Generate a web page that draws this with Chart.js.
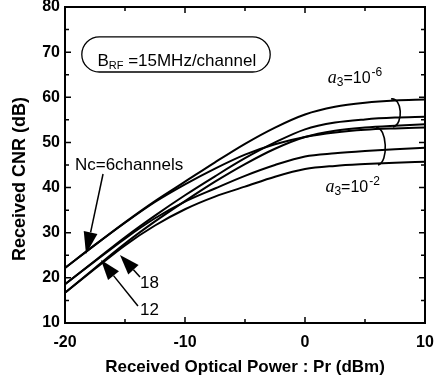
<!DOCTYPE html>
<html><head><meta charset="utf-8">
<script src="https://cdn.jsdelivr.net/npm/chart.js@4"></script>
<style>html,body{margin:0;padding:0;background:#fff}</style>
</head><body>
<canvas id="c" width="437" height="378" style="display:block;width:437px;height:378px"></canvas>
<script>
// ---- data ----
const powers = [-20, -17.5, -15, -12.5, -10, -7.5, -5, -2.5, 0, 2.5, 5, 7.5, 10];
const nc6_a3e6  = [22.2, 27.3, 32.3, 37.0, 41.3, 45.6, 49.7, 53.3, 56.2, 57.9, 58.8, 59.3, 59.5];
const nc6_a3e2  = [22.2, 27.3, 32.2, 36.8, 40.7, 44.2, 47.3, 49.6, 51.2, 52.2, 52.8, 53.1, 53.3];
const nc12_a3e6 = [18.6, 23.8, 29.0, 33.8, 38.3, 42.5, 46.5, 50.0, 52.9, 54.4, 55.1, 55.5, 55.7];
const nc18_a3e6 = [16.7, 22.2, 27.6, 32.5, 37.0, 41.3, 45.2, 48.6, 51.2, 52.6, 53.3, 53.7, 54.0];
const nc12_a3e2 = [18.6, 23.7, 28.7, 33.2, 36.9, 39.8, 42.6, 45.0, 46.9, 47.6, 48.1, 48.5, 48.8];
const nc18_a3e2 = [16.7, 22.0, 27.2, 31.6, 35.2, 38.0, 40.2, 42.4, 44.1, 44.8, 45.2, 45.5, 45.7];
const xTickValues = [-20, -10, 0, 10];
const yTickValues = [10, 20, 30, 40, 50, 60, 70, 80];
const xTitle = 'Received Optical Power : Pr (dBm)';
const yTitle = 'Received CNR (dB)';

const seriesList = [nc6_a3e6, nc6_a3e2, nc12_a3e6, nc18_a3e6, nc12_a3e2, nc18_a3e2];
const seriesNames = ['Nc=6, a3=1e-6','Nc=6, a3=1e-2','Nc=12, a3=1e-6','Nc=18, a3=1e-6','Nc=12, a3=1e-2','Nc=18, a3=1e-2'];

const SANS = '"Liberation Sans", Arial, Helvetica, sans-serif';
const SERIF = '"Liberation Serif", "Times New Roman", serif';

const datasets = seriesList.map((arr, i) => ({
  label: seriesNames[i],
  data: powers.map((p, j) => ({x: p, y: arr[j]})),
  borderColor: '#000',
  borderWidth: 2,
  pointRadius: 0,
  fill: false,
  tension: 0.4,
  cubicInterpolationMode: 'monotone'
}));

function arrow(ctx, x1, y1, x2, y2, headLen, headW) {
  const ang = Math.atan2(y2 - y1, x2 - x1);
  const bx = x2 - headLen * Math.cos(ang), by = y2 - headLen * Math.sin(ang);
  ctx.beginPath(); ctx.moveTo(x1, y1); ctx.lineTo(bx, by); ctx.stroke();
  ctx.beginPath();
  ctx.moveTo(x2, y2);
  ctx.lineTo(bx + headW * Math.sin(ang), by - headW * Math.cos(ang));
  ctx.lineTo(bx - headW * Math.sin(ang), by + headW * Math.cos(ang));
  ctx.closePath(); ctx.fill();
}

const decor = {
  id: 'decor',
  afterDatasetsDraw(chart) {
    const ctx = chart.ctx, a = chart.chartArea;
    const xs = chart.scales.x, ys = chart.scales.y;
    const X = v => xs.getPixelForValue(v), Y = v => ys.getPixelForValue(v);
    ctx.save();
    ctx.strokeStyle = '#000'; ctx.fillStyle = '#000';
    // frame
    ctx.lineWidth = 2;
    ctx.strokeRect(a.left, a.top, a.right - a.left, a.bottom - a.top);
    // inward ticks
    ctx.lineWidth = 1.5;
    ctx.beginPath();
    for (let v = -20; v <= 10; v += 5) {
      const L = (v % 10 === 0) ? 6 : 4, px = X(v);
      ctx.moveTo(px, a.bottom); ctx.lineTo(px, a.bottom - L);
      ctx.moveTo(px, a.top); ctx.lineTo(px, a.top + L);
    }
    for (let v = 10; v <= 80; v += 5) {
      const L = (v % 10 === 0) ? 6 : 4, py = Y(v);
      ctx.moveTo(a.left, py); ctx.lineTo(a.left + L, py);
      ctx.moveTo(a.right, py); ctx.lineTo(a.right - L, py);
    }
    ctx.stroke();

    // y-axis title (drawn as real text, rotated)
    ctx.save();
    ctx.translate(20, Y(41.9));
    ctx.rotate(-Math.PI / 2);
    ctx.font = 'bold 18px ' + SANS;
    ctx.textAlign = 'center'; ctx.textBaseline = 'middle';
    ctx.fillText(yTitle, 0, 0);
    ctx.restore();

    // rounded box with B_RF text
    const bx1 = X(-18.6), bx2 = X(-2.9), by1 = Y(73.4), by2 = Y(65.6);
    const r = (by2 - by1) / 2;
    ctx.lineWidth = 1.3;
    ctx.beginPath();
    ctx.moveTo(bx1 + r, by1); ctx.lineTo(bx2 - r, by1);
    ctx.arc(bx2 - r, by1 + r, r, -Math.PI / 2, Math.PI / 2);
    ctx.lineTo(bx1 + r, by2);
    ctx.arc(bx1 + r, by1 + r, r, Math.PI / 2, Math.PI * 1.5);
    ctx.closePath(); ctx.stroke();
    ctx.textBaseline = 'alphabetic'; ctx.textAlign = 'left';
    let tx = X(-17.3), ty = Y(66.9);
    ctx.font = '17px ' + SANS; ctx.fillText('B', tx, ty); tx += ctx.measureText('B').width;
    ctx.font = '11px ' + SANS; ctx.fillText('RF', tx, ty + 3); tx += ctx.measureText('RF').width;
    ctx.font = '17px ' + SANS; ctx.fillText(' =15MHz/channel', tx, ty);

    // a3 labels
    function a3label(xv, yv, exp) {
      let x = X(xv); const y = Y(yv);
      ctx.font = 'italic 18px ' + SERIF; ctx.fillText('a', x, y); x += ctx.measureText('a').width;
      ctx.font = '12px ' + SANS; ctx.fillText('3', x, y + 3); x += ctx.measureText('3').width;
      ctx.font = '16px ' + SANS; ctx.fillText('=10', x, y); x += ctx.measureText('=10').width + 1;
      ctx.font = '12px ' + SANS; ctx.fillText(exp, x, y - 7);
    }
    a3label(1.9, 63.2, '-6');
    a3label(1.7, 39.0, '-2');

    // Nc labels
    ctx.font = '17px ' + SANS;
    ctx.fillText('Nc=6channels', X(-19.17), Y(43.9));
    ctx.fillText('18', X(-13.75), Y(17.75));
    ctx.fillText('12', X(-13.75), Y(11.8));

    // arrows
    ctx.lineWidth = 1.5;
    arrow(ctx, X(-16.83), Y(43.0), X(-18.25), Y(25.3), 22, 7);
    arrow(ctx, X(-13.75), Y(20.2), X(-15.42), Y(25.06), 20, 7);
    arrow(ctx, X(-13.92), Y(13.76), X(-17.0), Y(23.95), 20, 7);

    // brackets
    ctx.lineWidth = 1.6;
    ctx.beginPath();
    ctx.moveTo(X(7.17), Y(59.62));
    ctx.bezierCurveTo(X(8.08), Y(60.06), X(8.25), Y(54.08), X(7.33), Y(53.42));
    ctx.stroke();
    ctx.beginPath();
    ctx.moveTo(X(5.92), Y(53.2));
    ctx.bezierCurveTo(X(6.83), Y(53.64), X(7.0), Y(45.44), X(6.08), Y(45.0));
    ctx.stroke();
    ctx.restore();
  }
};

new Chart(document.getElementById('c'), {
  type: 'line',
  data: { datasets },
  options: {
    responsive: false,
    animation: false,
    devicePixelRatio: 1,
    layout: { padding: { left: 0, right: 12, top: 7, bottom: 0 } },
    plugins: { legend: { display: false }, tooltip: { enabled: false } },
    scales: {
      x: {
        type: 'linear', min: -20, max: 10,
        afterBuildTicks: s => { s.ticks = xTickValues.map(v => ({value: v})); },
        afterFit: s => { s.height = 55; s.paddingRight = 0; s.paddingLeft = 0; },
        grid: { display: false, drawTicks: false },
        border: { display: false },
        ticks: { color: '#000', font: { family: SANS, size: 16, weight: 'bold' }, padding: 10, maxRotation: 0 },
        title: { display: true, text: xTitle, color: '#000', font: { family: SANS, size: 17, weight: 'bold' }, padding: { top: 2, bottom: 0 } }
      },
      y: {
        type: 'linear', min: 10, max: 80,
        afterBuildTicks: s => { s.ticks = yTickValues.map(v => ({value: v})); },
        afterFit: s => { s.width = 65; s.paddingTop = 0; s.paddingBottom = 0; },
        grid: { display: false, drawTicks: false },
        border: { display: false },
        ticks: { color: '#000', font: { family: SANS, size: 16, weight: 'bold' }, padding: 5 },
        title: { display: false }
      }
    }
  },
  plugins: [decor]
});
</script>
</body></html>
